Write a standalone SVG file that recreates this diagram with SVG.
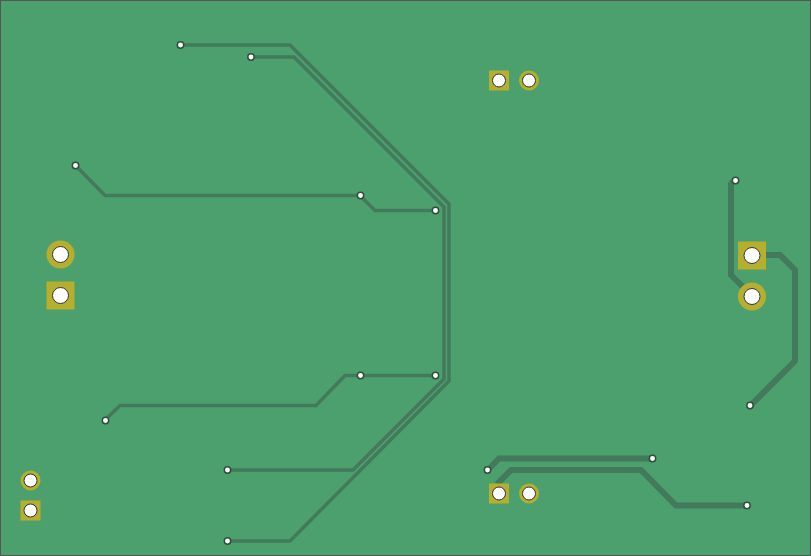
<svg xmlns="http://www.w3.org/2000/svg" width="811" height="556" viewBox="0 0 811 556">
<style>
.t{fill:none;stroke:#437a5b;stroke-linejoin:miter;stroke-width:3.500}
.w{stroke-width:6}
.pad{fill:#b5ae2f}
.hole{fill:#fff;stroke:#333;stroke-width:1}
.via{fill:#fff;stroke:#2f4f3c;stroke-width:1.500}
</style>
<rect x="0.500" y="0.500" width="810" height="555" fill="#4ca06d" stroke="#555" stroke-width="1"/>
<g id="connectors">
<path class="t" d="M180 45H290L449 204V381L290 541H227"/>
<path class="t" d="M250 57H294L444 207V379L353 470H227"/>
<path class="t" d="M75 165L105 195.500H360L375 210.500H435"/>
<path class="t" d="M105 420L120 405.500H316L345 375.500H435"/>
<path class="t w" d="M752 296L731 275V184L735 180"/>
<path class="t w" d="M752 255H780L795 270V361L750 406"/>
<path class="t w" d="M488 470L499 458.500H652"/>
<path class="t w" d="M497 484L511 470H641L676 505.500H746"/>
</g>
<g id="via-1"><circle class="via" cx="180.500" cy="45" r="3.200"/></g>
<g id="via-2"><circle class="via" cx="251" cy="57" r="3.200"/></g>
<g id="via-3"><circle class="via" cx="75.500" cy="165.500" r="3.200"/></g>
<g id="via-4"><circle class="via" cx="360.500" cy="195.500" r="3.200"/></g>
<g id="via-5"><circle class="via" cx="435.500" cy="210.500" r="3.200"/></g>
<g id="via-6"><circle class="via" cx="360.500" cy="375.500" r="3.200"/></g>
<g id="via-7"><circle class="via" cx="435.500" cy="375.500" r="3.200"/></g>
<g id="via-8"><circle class="via" cx="105.500" cy="420.500" r="3.200"/></g>
<g id="via-9"><circle class="via" cx="227.500" cy="470" r="3.200"/></g>
<g id="via-10"><circle class="via" cx="227.500" cy="541" r="3.200"/></g>
<g id="via-11"><circle class="via" cx="735.500" cy="180.500" r="3.200"/></g>
<g id="via-12"><circle class="via" cx="750" cy="405.500" r="3.200"/></g>
<g id="via-13"><circle class="via" cx="487.500" cy="470" r="3.200"/></g>
<g id="via-14"><circle class="via" cx="652.500" cy="458.500" r="3.200"/></g>
<g id="via-15"><circle class="via" cx="747" cy="505.500" r="3.200"/></g>
<g id="pad-1"><circle class="pad" cx="60.500" cy="254.500" r="14"/><circle class="hole" cx="60.500" cy="254.500" r="8"/></g>
<g id="pad-2"><rect class="pad" x="46.500" y="281.500" width="28" height="28"/><circle class="hole" cx="60.500" cy="295.500" r="8"/></g>
<g id="pad-3"><rect class="pad" x="738" y="241.500" width="28" height="28"/><circle class="hole" cx="752" cy="255.500" r="8"/></g>
<g id="pad-4"><circle class="pad" cx="752" cy="296.500" r="14"/><circle class="hole" cx="752" cy="296.500" r="8"/></g>
<g id="pad-5"><rect class="pad" x="489" y="70.500" width="20" height="20"/><circle class="hole" cx="499" cy="80.500" r="6.500"/></g>
<g id="pad-6"><circle class="pad" cx="529" cy="80.500" r="10"/><circle class="hole" cx="529" cy="80.500" r="6.500"/></g>
<g id="pad-7"><rect class="pad" x="489" y="483.500" width="20" height="20"/><circle class="hole" cx="499" cy="493.500" r="6.500"/></g>
<g id="pad-8"><circle class="pad" cx="529" cy="493.500" r="10"/><circle class="hole" cx="529" cy="493.500" r="6.500"/></g>
<g id="pad-9"><circle class="pad" cx="30.500" cy="480.500" r="10"/><circle class="hole" cx="30.500" cy="480.500" r="6.500"/></g>
<g id="pad-10"><rect class="pad" x="20.500" y="500.500" width="20" height="20"/><circle class="hole" cx="30.500" cy="510.500" r="6.500"/></g>
</svg>
